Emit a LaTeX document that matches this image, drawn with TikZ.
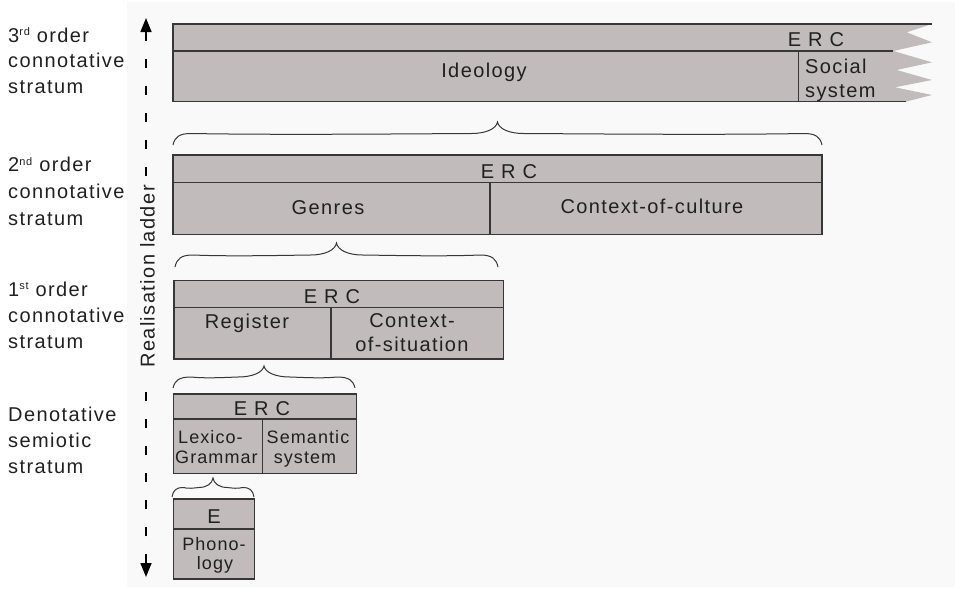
\documentclass[tikz,border=0pt]{standalone}
\usepackage{fontspec}
\setmainfont{Liberation Sans}[LetterSpace=7]
\usetikzlibrary{arrows.meta}
\definecolor{boxgray}{RGB}{193,187,187}
\definecolor{edgecol}{RGB}{55,55,55}
\definecolor{txtcol}{RGB}{32,32,32}
\definecolor{panelcol}{RGB}{249,249,249}

\newcommand\mysup[1]{\raisebox{6.5pt}{\fontsize{11}{11}\selectfont #1}}

\newcommand\mybrace[4]{%
  \pgfmathsetmacro\bxm{(#1+#2)/2}%
  \pgfmathsetmacro\bym{(#3+#4)/2}%
  \pgfmathsetmacro\bhw{(#2-#1)/2}%
  \pgfmathsetmacro\bh{#3-\bym}%
  \pgfmathsetmacro\bu{\bym-#4}%
  \pgfmathsetmacro\ba{min(18,0.28*\bhw)}%
  \pgfmathsetmacro\bt{min(26,0.35*\bhw)}%
  \pgfmathsetmacro\bL{\bhw-\ba-\bt}%
  \draw[bracestyle] (#1,#3)
    .. controls ({#1+0.1*\ba},{\bym+0.3*\bh}) and ({#1+0.35*\ba},\bym) .. ({#1+\ba},\bym)
    .. controls ({#1+\ba+0.3*\bL},{\bym+1.5}) and ({\bxm-\bt-0.3*\bL},{\bym+0.5}) .. ({\bxm-\bt},\bym)
    .. controls ({\bxm-0.45*\bt},\bym) and ({\bxm-0.05*\bt},{\bym-0.4*\bu}) .. (\bxm,#4)
    .. controls ({\bxm+0.05*\bt},{\bym-0.4*\bu}) and ({\bxm+0.45*\bt},\bym) .. ({\bxm+\bt},\bym)
    .. controls ({\bxm+\bt+0.3*\bL},{\bym+0.5}) and ({#2-\ba-0.3*\bL},{\bym+1.5}) .. ({#2-\ba},\bym)
    .. controls ({#2-0.35*\ba},\bym) and ({#2-0.1*\ba},{\bym+0.3*\bh}) .. (#2,#3);
}

\begin{document}
\begin{tikzpicture}[x=1pt,y=-1pt,
  bracestyle/.style={draw=edgecol, line width=1pt},
  boxfill/.style={fill=boxgray, draw=edgecol, line width=1.2pt},
  sep/.style={draw=edgecol, line width=1.2pt},
  lbl/.style={anchor=base west, inner sep=0pt, text=txtcol, font=\fontsize{20}{24}\selectfont},
  tx/.style={anchor=base, inner sep=0pt, text=txtcol, font=\fontsize{20}{24}\selectfont},
  txs/.style={tx, font=\fontsize{18}{20}\selectfont\addfontfeature{LetterSpace=6}},
  txsl/.style={lbl, font=\fontsize{18}{20}\selectfont\addfontfeature{LetterSpace=6}},
  ladder/.style={draw=black, line width=1.6pt, dash pattern=on 9pt off 18pt}]
\useasboundingbox (0,0) rectangle (955,589);
\fill[panelcol] (127,2) rectangle (955,587);

% ---- 3rd order box (torn right edge)
\fill[boxgray] (173,24) -- (932,24) -- (906.7,32.3) -- (932,42.3) -- (893.3,51)
  -- (932,62.3) -- (896.7,70) -- (932,80) -- (895,87.3) -- (932,95)
  -- (905.7,101.7) -- (173,101.7) -- cycle;
\draw[sep] (932,24) -- (173,24) -- (173,101.7) -- (905.7,101.7);
\draw[sep] (173,51) -- (893.3,51);
\draw[sep] (798.3,51) -- (798.3,101.7);
\node[tx] (erc3) at (816,46.5) {E R C};
\node[tx] (ideo) at (484,77) {Ideology};
\node[lbl] (soc1) at (805,73) {Social};
\node[lbl] (soc2) at (805,97) {system};

% ---- 2nd order box
\mybrace{173}{822}{145}{122}
\draw[boxfill] (173,155) rectangle (822,234.3);
\draw[sep] (173,182.3) -- (822,182.3);
\draw[sep] (490,182.3) -- (490,234.3);
\node[tx] (erc2) at (509,178) {E R C};
\node[tx] (genres) at (328,214) {Genres};
\node[tx] (coc) at (652,213) {Context-of-culture};

% ---- 1st order box
\mybrace{175}{498}{267}{243}
\draw[boxfill] (174,280.7) rectangle (503.3,359);
\draw[sep] (174,307.3) -- (503.3,307.3);
\draw[sep] (331,307.3) -- (331,359);
\node[tx] (erc1) at (332,303) {E R C};
\node[tx] (reg) at (247,328) {Register};
\node[tx] (cos1) at (412,327) {Context-};
\node[tx] (cos2) at (412,351.5) {of-situation};

% ---- denotative box
\mybrace{173}{355}{388}{366}
\draw[boxfill] (173.3,394) rectangle (356.7,473.3);
\draw[sep] (173.3,419) -- (356.7,419);
\draw[sep] (262.3,419) -- (262.3,473.3);
\node[tx] (erc0) at (262,415) {E R C};
\node[txsl] (lex1) at (178,443) {Lexico-};
\node[txsl] (lex2) at (175,463) {Grammar};
\node[txs] (sem1) at (308,443) {Semantic};
\node[txs] (sem2) at (305,463) {system};

% ---- expression box
\mybrace{172}{254}{497}{478}
\draw[boxfill] (173.3,499) rectangle (254.3,579);
\draw[sep] (173.3,529) -- (254.3,529);
\node[tx] (ee) at (214,523) {E};
\node[txs] (ph1) at (214,550) {Phono-};
\node[txs] (ph2) at (215,569) {logy};

% ---- realisation ladder
\coordinate (ltop) at (146,18);
\coordinate (ltopend) at (146,176);
\coordinate (lbot) at (146,577);
\coordinate (lbotend) at (146,378);
\draw[ladder, {Triangle[length=14pt, width=11pt]}-] (ltop) -- (ltopend);
\draw[ladder, {Triangle[length=14pt, width=11pt]}-] (lbot) -- (lbotend);
\node[tx, anchor=center, rotate=90] (ladlbl) at (147.5,276.5) {Realisation ladder};

% ---- stratum labels
\node[lbl] (s3a) at (8,42) {3\mysup{rd} order};
\node[lbl] (s3b) at (8,67.5) {connotative};
\node[lbl] (s3c) at (8,93) {stratum};
\node[lbl] (s2a) at (8,171.5) {2\mysup{nd} order};
\node[lbl] (s2b) at (8,198.3) {connotative};
\node[lbl] (s2c) at (8,225) {stratum};
\node[lbl] (s1a) at (8,296) {1\mysup{st} order};
\node[lbl] (s1b) at (8,322) {connotative};
\node[lbl] (s1c) at (8,348) {stratum};
\node[lbl] (s0a) at (8,421) {Denotative};
\node[lbl] (s0b) at (8,447) {semiotic};
\node[lbl] (s0c) at (8,473) {stratum};
\end{tikzpicture}
\end{document}
